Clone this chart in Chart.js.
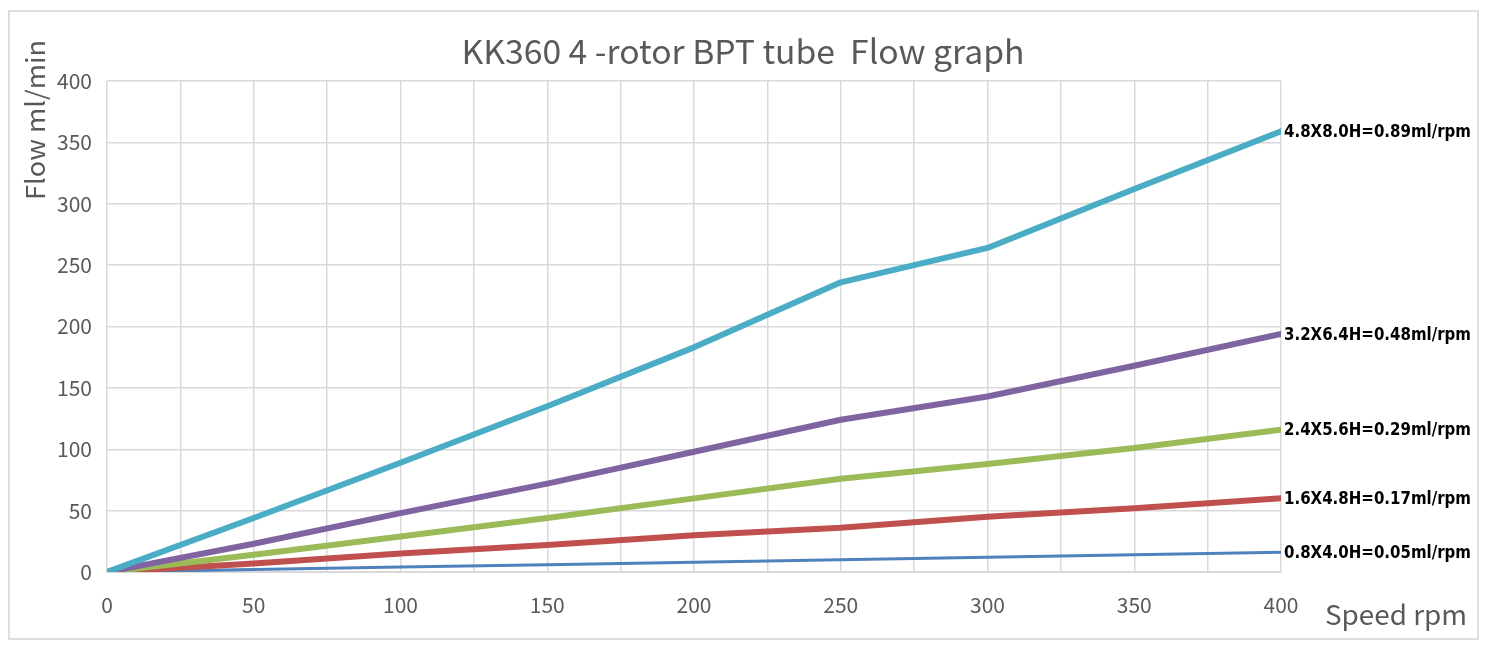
<!DOCTYPE html>
<html><head><meta charset="utf-8">
<script src="https://cdn.jsdelivr.net/npm/chart.js@4"></script>
<style>html,body{margin:0;padding:0;background:#fff;}#wrap{position:relative;width:1489px;height:652px;}</style>
</head><body><div id="wrap"><canvas id="c" width="1489" height="652"></canvas></div>
<script>
const speeds = [0, 50, 100, 150, 200, 250, 300, 350, 400];
const flow48 = [0, 44, 89, 135, 183, 236, 264, 312, 359];
const flow32 = [0, 23, 48, 72, 98, 124, 143, 168, 194];
const flow24 = [0, 14, 29, 44, 60, 76, 88, 101, 116];
const flow16 = [0, 7, 15, 22, 30, 36, 45, 52, 60];
const flow08 = [0, 2, 4, 6, 8, 10, 12, 14, 16];
const seriesLabels = ["4.8X8.0H=0.89ml/rpm","3.2X6.4H=0.48ml/rpm","2.4X5.6H=0.29ml/rpm","1.6X4.8H=0.17ml/rpm","0.8X4.0H=0.05ml/rpm"];
const titleText = "KK360 4 -rotor BPT tube  Flow graph";
const yTitle = "Flow ml/min";
const xTitle = "Speed rpm";

const pts = arr => arr.map((v,i)=>({x:speeds[i], y:v}));
const colors = ["#4bacc6","#8064a2","#9bbb59","#c0504d","#4f81bd"];
const widths = [6,6,6,6,3];
const allData = [flow48, flow32, flow24, flow16, flow08];

const FONT = "'Noto Sans CJK SC','Noto Sans',sans-serif";

function fitText(ctx, text, x, y, targetW){
  const w = ctx.measureText(text).width;
  ctx.save();
  ctx.translate(x, y);
  ctx.scale(targetW / w, 1);
  ctx.fillText(text, 0, 0);
  ctx.restore();
}

const decor = {
  id:'decor',
  beforeDraw(chart){
    const ctx = chart.ctx;
    ctx.save();
    ctx.strokeStyle = '#dedede';
    ctx.lineWidth = 2;
    ctx.strokeRect(9, 11, 1469, 628);
    ctx.restore();
  },
  afterDraw(chart){
    const ctx = chart.ctx;
    ctx.save();
    ctx.fillStyle = '#595959';
    ctx.textBaseline = 'middle';
    ctx.textAlign = 'center';
    ctx.font = "400 33px " + FONT;
    fitText(ctx, titleText, 743, 51, 563);
    ctx.font = "400 26px " + FONT;
    ctx.save();
    ctx.translate(35, 120); ctx.rotate(-Math.PI/2);
    fitText(ctx, yTitle, 0, 0, 160);
    ctx.restore();
    ctx.font = "400 27px " + FONT;
    fitText(ctx, xTitle, 1396, 615, 142);
    // end labels
    const xs = chart.scales.x, ys = chart.scales.y;
    ctx.fillStyle = '#000';
    ctx.textAlign = 'left';
    ctx.font = "bold 18px 'Liberation Sans Narrow','DejaVu Sans Condensed',sans-serif";
    chart.data.datasets.forEach((ds, i) => {
      const last = ds.data[ds.data.length-1];
      const px = xs.getPixelForValue(last.x) + 3;
      const py = ys.getPixelForValue(last.y) + 1;
      fitText(ctx, seriesLabels[i], px, py, 187);
    });
    ctx.restore();
  }
};

new Chart(document.getElementById('c'), {
  type:'line',
  data:{
    datasets: allData.map((arr,i)=>({
      label: seriesLabels[i],
      data: pts(arr),
      borderColor: colors[i],
      backgroundColor: colors[i],
      borderWidth: widths[i],
      pointRadius: 0,
      tension: 0,
      borderCapStyle:'round',
      borderJoinStyle:'round'
    }))
  },
  options:{
    responsive:false,
    animation:false,
    layout:{padding:{left:0, top:81, right:208, bottom:0}},
    plugins:{legend:{display:false}, title:{display:false}, tooltip:{enabled:false}},
    scales:{
      x:{
        type:'linear', min:0, max:400,
        grid:{color:'#d9d9d9', lineWidth:1.5, drawTicks:false},
        border:{color:'#d9d9d9', width:2},
        ticks:{stepSize:25, padding:20, color:'#595959', font:{family:FONT, size:21, weight:'400'},
          callback:v => (v % 50 === 0 ? String(v) : '')},
        afterFit(s){ s.height = 80; }
      },
      y:{
        min:0, max:400,
        grid:{color:'#d9d9d9', lineWidth:1.5, drawTicks:false},
        border:{display:false},
        ticks:{stepSize:50, padding:15, color:'#595959', font:{family:FONT, size:21, weight:'400'}},
        afterFit(s){ s.width = 107; }
      }
    }
  },
  plugins:[decor]
});
</script></body></html>
